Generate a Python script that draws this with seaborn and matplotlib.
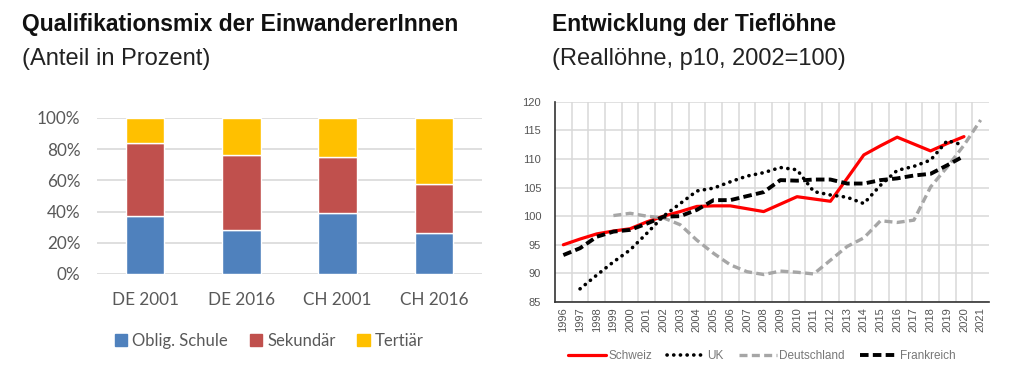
import numpy as np
import pandas as pd
import matplotlib
matplotlib.use('Agg')
import matplotlib.pyplot as plt
import matplotlib.patches as mpatches
from matplotlib.lines import Line2D
from matplotlib.ticker import FuncFormatter, MultipleLocator
import seaborn as sns

# --- data: Qualifikationsmix (Anteil in Prozent)
groups = ['DE 2001', 'DE 2016', 'CH 2001', 'CH 2016']
oblig = np.array([37, 28, 39, 26])
sekundaer = np.array([47, 48, 36, 32])
tertiaer = np.array([16, 24, 25, 42])

# --- data: Tiefloehne (p10, 2002=100)
years_ch = list(range(1996, 2021))
schweiz = [95.0, 96.0, 96.9, 97.4, 97.8, 99.0, 100.0, 100.8, 101.7, 101.8, 101.8, 101.3,
           100.8, 102.1, 103.4, 103.0, 102.6, 106.6, 110.7, 112.3, 113.8, 112.6, 111.4,
           112.7, 113.9]
years_uk = list(range(1997, 2021))
uk = [87.3, 89.7, 92.0, 94.1, 97.0, 100.0, 102.2, 104.4, 104.9, 106.0, 107.0, 107.6,
      108.5, 108.1, 104.3, 103.7, 103.3, 102.2, 105.4, 108.0, 108.7, 109.8, 113.2, 112.4]
years_de = list(range(1999, 2022))
deutschland = [100.1, 100.5, 100.0, 99.7, 98.5, 95.8, 93.5, 91.5, 90.3, 89.8, 90.4, 90.2,
               89.9, 92.3, 94.7, 96.2, 99.2, 98.9, 99.3, 105.1, 108.6, 112.4, 116.8]
years_fr = list(range(1996, 2021))
frankreich = [93.2, 94.4, 96.4, 97.3, 97.6, 98.7, 99.9, 100.0, 101.1, 102.8, 102.8, 103.5,
              104.2, 106.3, 106.2, 106.4, 106.4, 105.7, 105.7, 106.3, 106.6, 107.1, 107.4,
              108.9, 110.5]

sns.set_theme(style='white')
plt.rcParams['font.family'] = ['Liberation Sans', 'DejaVu Sans']

fig = plt.figure(figsize=(10.36, 3.83), dpi=100)

# titles
fig.text(22 / 1036, 1 - 31.5 / 383, 'Qualifikationsmix der EinwandererInnen',
         fontsize=16.5, fontweight='bold', color='#111111', va='baseline')
fig.text(22 / 1036, 1 - 65 / 383, '(Anteil in Prozent)',
         fontsize=17, color='#222222', va='baseline')
fig.text(552 / 1036, 1 - 31.5 / 383, 'Entwicklung der Tieflöhne',
         fontsize=16.5, fontweight='bold', color='#111111', va='baseline')
fig.text(552 / 1036, 1 - 65 / 383, '(Reallöhne, p10, 2002=100)',
         fontsize=17, color='#222222', va='baseline')

# --- left: stacked bars
c_blue, c_red, c_yel = '#4F81BD', '#C0504D', '#FFC000'
ax1 = fig.add_axes([97 / 1036, 1 - 274 / 383, 385 / 1036, 156 / 383])
sns.barplot(x=groups, y=oblig, color=c_blue, width=0.4, ax=ax1, saturation=1)
sns.barplot(x=groups, y=sekundaer, bottom=oblig, color=c_red, width=0.4, ax=ax1, saturation=1)
sns.barplot(x=groups, y=tertiaer, bottom=oblig + sekundaer, color=c_yel, width=0.4, ax=ax1,
            saturation=1)
ax1.set_ylim(0, 100)
ax1.set_xlim(-0.5, 3.5)
ax1.yaxis.set_major_locator(MultipleLocator(20))
ax1.yaxis.set_major_formatter(FuncFormatter(lambda v, p: f'{v:.0f}%'))
ax1.grid(axis='y', color='#D9D9D9', lw=1.2)
ax1.set_axisbelow(True)
for s in ax1.spines.values():
    s.set_visible(False)
ax1.tick_params(axis='both', length=0, labelsize=12.3, colors='#595959')
ax1.tick_params(axis='y', pad=12)
ax1.tick_params(axis='x', pad=13)
for lab in ax1.get_xticklabels() + ax1.get_yticklabels():
    lab.set_family(['Lato', 'DejaVu Sans'])

h1 = [mpatches.Patch(color=c) for c in (c_blue, c_red, c_yel)]
leg1 = fig.legend(h1, ['Oblig. Schule', 'Sekundär', 'Tertiär'], loc='center',
                  bbox_to_anchor=(269 / 1036, 1 - 341 / 383), ncol=3, frameon=False,
                  handlelength=0.75, handleheight=0.75, handletextpad=0.3, columnspacing=1.3,
                  prop={'family': 'Lato', 'size': 12})
for t in leg1.get_texts():
    t.set_color('#595959')

# --- right: line chart
ax2 = fig.add_axes([555 / 1036, 1 - 302 / 383, 434 / 1036, 200.3 / 383])
sns.lineplot(x=years_ch, y=schweiz, color='#FF0000', lw=2.3, ax=ax2, label='Schweiz')
sns.lineplot(x=years_uk, y=uk, color='black', lw=2.6, ax=ax2, label='UK',
             linestyle=(0, (0.05, 1.8)), dash_capstyle='round')
sns.lineplot(x=years_de, y=deutschland, color='#A6A6A6', lw=2.4, ax=ax2, label='Deutschland',
             linestyle=(0, (2.4, 1.3)))
sns.lineplot(x=years_fr, y=frankreich, color='black', lw=2.8, ax=ax2, label='Frankreich',
             linestyle=(0, (2.2, 1.1)))
ax2.set_xlim(1995.5, 2021.5)
ax2.set_ylim(85, 120)
ax2.set_xticks(range(1996, 2022))
ax2.set_xticklabels([str(y) for y in range(1996, 2022)], rotation=90)
ax2.set_xticks(np.arange(1996.5, 2021.0, 1), minor=True)
ax2.yaxis.set_major_locator(MultipleLocator(5))
ax2.grid(which='minor', axis='x', color='#D9D9D9', lw=1.1)
ax2.grid(which='major', axis='y', color='#D9D9D9', lw=1.1)
ax2.set_axisbelow(True)
ax2.spines['top'].set_visible(False)
ax2.spines['right'].set_visible(False)
for s in ('left', 'bottom'):
    ax2.spines[s].set_color('#333333')
    ax2.spines[s].set_linewidth(1.2)
ax2.tick_params(axis='both', which='both', length=0, labelsize=8, colors='#555555')
ax2.tick_params(axis='y', pad=10)
ax2.tick_params(axis='x', pad=4)
ax2.get_legend().remove()

h2 = [Line2D([], [], color='#FF0000', lw=2.3),
      Line2D([], [], color='black', lw=2.6, linestyle=(0, (0.05, 1.8)), dash_capstyle='round'),
      Line2D([], [], color='#A6A6A6', lw=2.4, linestyle=(0, (2.4, 1.3))),
      Line2D([], [], color='black', lw=2.8, linestyle=(0, (2.2, 1.1)))]
leg2 = fig.legend(h2, ['Schweiz', 'UK', 'Deutschland', 'Frankreich'], loc='center',
                  bbox_to_anchor=(762 / 1036, 1 - 356 / 383), ncol=4, frameon=False,
                  handlelength=3.2, handletextpad=0.2, columnspacing=1.3, fontsize=8.5)
for t in leg2.get_texts():
    t.set_color('#777777')

fig.savefig('out.png', dpi=100)
